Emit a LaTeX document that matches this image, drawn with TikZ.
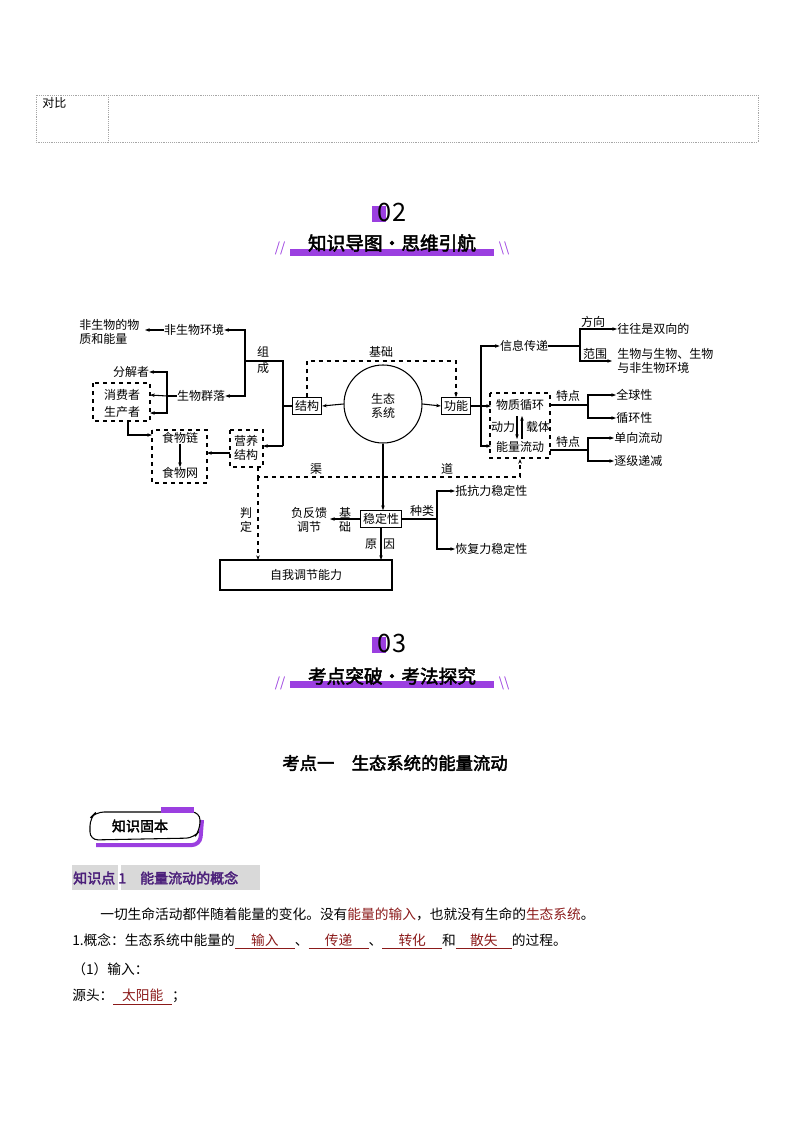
\documentclass[tikz,border=0pt]{standalone}
\usepackage{fontspec}
\setmainfont{Noto Sans CJK SC}
\newfontfamily\cjkb{Noto Sans CJK SC}[FakeBold=2.5]
\usetikzlibrary{arrows.meta}
\definecolor{pur}{HTML}{9B3FE0}
\definecolor{dred}{HTML}{8B1A1A}
\definecolor{tpur}{HTML}{4B1F7A}
\newcommand{\blk}[2]{\textcolor{dred}{\underline{\makebox[#1][c]{#2}}}}
\begin{document}
\begin{tikzpicture}[x=0.75pt,y=-0.75pt,
  t/.style={inner sep=0pt,font=\fontsize{9}{11}\selectfont},
  bx/.style={draw,line width=0.8pt,inner sep=2pt,font=\fontsize{9}{11}\selectfont},
  dbx/.style={draw,line width=0.8pt,dashed,inner sep=0pt},
  ar/.style={-{Stealth[length=3.5pt,width=2.6pt]},line width=0.8pt},
  ln/.style={line width=0.8pt},
  dar/.style={-{Stealth[length=3.5pt,width=2.6pt]},line width=0.8pt,dashed},
  bt/.style={inner sep=0pt,font=\fontsize{10.3}{15}\selectfont,anchor=west}]
\useasboundingbox (0,0) rectangle (794,1123);
% top table
\draw[gray!70,densely dotted] (36,95) rectangle (758,142);
\draw[gray!70,densely dotted] (108,95) -- (108,142);
\node[t,anchor=west] (db) at (42,103) {对比};
% 02 header
\fill[pur] (372,206) rectangle (386,222);
\node[inner sep=0pt,font=\fontsize{19}{20}\selectfont] (n02) at (392,212) {02};
\fill[pur] (290,249) rectangle (494,256);
\node[inner sep=0pt,font=\cjkb\fontsize{14}{16}\selectfont] (h02) at (392,243) {知识导图·思维引航};
\node[inner sep=0pt,pur,font=\fontsize{10}{10}\selectfont] (s1) at (280,248) {//};
\node[inner sep=0pt,pur,font=\fontsize{10}{10}\selectfont] (s2) at (504,248) {\textbackslash\textbackslash};
% diagram
\node[t,align=left,anchor=west] (fsw) at (79,332) {非生物的物\\质和能量};
\node[t] (fswhj) at (194,330) {非生物环境};
\node[t] (swql) at (201,396) {生物群落};
\node[t] (fjz) at (131,372) {分解者};
\node[t] (xfz) at (122,395) {消费者};
\node[t] (scz) at (122,412) {生产者};
\draw[dbx] (93,383) rectangle (150,421);
\coordinate (xb) at (150,395);
\coordinate (sb) at (150,413);
\node[t] (sl) at (180,438) {食物链};
\node[t] (sw) at (180,473) {食物网};
\draw[dbx] (152,430) rectangle (207,483);
\node[t,align=center] (yy) at (246,448) {营养\\结构};
\draw[dbx] (230,430) rectangle (263,467);
\node[bx] (jg) at (307,406) {结构};
\node[draw,line width=0.8pt,circle,minimum size=58.5pt,inner sep=0pt] (st) at (383,404) {};
\node[t,align=center] (stt) at (383,406) {生态\\系统};
\node[bx] (gn) at (456,406) {功能};
\node[t] (xx) at (524,346) {信息传递};
\node[t] (wz) at (520,405) {物质循环};
\node[t] (nl) at (520,447) {能量流动};
\node[t] (dl) at (503,427) {动力};
\node[t] (zt) at (538,427) {载体};
\draw[dbx] (490,393) rectangle (550,458);
\node[t,anchor=west] (wwsx) at (617,329) {往往是双向的};
\node[t,align=left,anchor=west] (swy) at (617,361) {生物与生物、生物\\与非生物环境};
\node[t,anchor=west] (qqx) at (616,395) {全球性};
\node[t,anchor=west] (xhx) at (616,418) {循环性};
\node[t,anchor=west] (dxld) at (614,438) {单向流动};
\node[t,anchor=west] (zjdj) at (614,461) {逐级递减};
\node[t] (fx) at (593,322) {方向};
\node[t] (fw) at (595,354) {范围};
\node[t] (td1) at (568,396) {特点};
\node[t] (td2) at (568,442) {特点};
\node[bx] (wdx) at (381,519) {稳定性};
\node[t,align=center] (ffk) at (309,520) {负反馈\\调节};
\node[t,align=center] (jc2) at (345,520) {基\\础};
\node[t] (zl) at (422,511) {种类};
\node[t,anchor=west] (dkl) at (455,491) {抵抗力稳定性};
\node[t,anchor=west] (hfl) at (455,549) {恢复力稳定性};
\node[t] (yin) at (380,544) {原\,\,\,因};
\node[draw,line width=0.8pt,minimum width=129pt,minimum height=22.5pt,inner sep=0pt,font=\fontsize{9}{11}\selectfont] (zw) at (306,575) {自我调节能力};
\node[t] (zu) at (263,352) {组};
\node[t] (ch) at (263,368) {成};
\node[t] (jc) at (381,352) {基础};
\node[t] (qu) at (316,469) {渠};
\node[t] (dao) at (447,469) {道};
\node[t,align=center] (pd) at (246,520) {判\\定};
% connectors
\draw[ar] (fswhj.west) -- (145,330);
\draw[ln] (283,446) -- (283,361) -- (245,361);
\draw[ar] (245,361) |- (fswhj.east);
\draw[ar] (245,361) |- (swql.east);
\draw[ln] (283,406) -- (jg.west);
\draw[ar] (st.west) -- (jg.east);
\draw[ar] (283,446) -- (263,446);
\draw[ln] (swql.west) -- (167,396);
\draw[ar] (167,396) |- (fjz.east);
\draw[ar] (167,396) -- (xb);
\draw[ar] (167,396) |- (sb);
\draw[ar] (128,421) |- (152,435);
\draw[ar] (sl.south) -- (sw.north);
\draw[ar] (230,453) -- (207,453);
\draw[dar] (jg.north) |- (456,361) -- (gn.north);
\draw[ar] (st.east) -- (gn.west);
\draw[ln] (gn.east) -- (481,406);
\draw[ar] (481,406) |- (xx.west);
\draw[ar] (481,406) -- (491,406);
\draw[ar] (481,406) |- (491,446);
\draw[ar] (517,416) -- (517,439);
\draw[ar] (522,439) -- (522,416);
\draw[ln] (xx.east) -- (580,346);
\draw[ar] (580,346) |- (wwsx.west);
\draw[ar] (580,346) |- (612,361);
\draw[ln] (550,405) -- (588,405);
\draw[ar] (588,405) |- (qqx.west);
\draw[ar] (588,405) |- (xhx.west);
\draw[ln] (550,450) -- (588,450);
\draw[ar] (588,450) |- (dxld.west);
\draw[ar] (588,450) |- (zjdj.west);
\draw[dar] (258,467) -- (258,477) -- (520,477) -- (520,459);
\draw[dar] (258,477) -- (258,560);
\draw[ar] (st.south) -- (wdx.north-|st.south);
\draw[ar] (wdx.west) -- (330,519);
\draw[ar] (381,528) -- (381,560);
\draw[ln] (wdx.east) -- (437,519);
\draw[ar] (437,519) |- (dkl.west);
\draw[ar] (437,519) |- (hfl.west);
% 03 header
\fill[pur] (372,637) rectangle (386,653);
\node[inner sep=0pt,font=\fontsize{19}{20}\selectfont] (n03) at (392,643) {03};
\fill[pur] (290,681) rectangle (494,688);
\node[inner sep=0pt,font=\cjkb\fontsize{14}{16}\selectfont] (h03) at (392,676) {考点突破·考法探究};
\node[inner sep=0pt,pur,font=\fontsize{10}{10}\selectfont] (s3) at (280,683) {//};
\node[inner sep=0pt,pur,font=\fontsize{10}{10}\selectfont] (s4) at (504,683) {\textbackslash\textbackslash};
\node[inner sep=0pt,font=\cjkb\fontsize{13}{15}\selectfont] (kd) at (395,763) {考点一\quad 生态系统的能量流动};
% badge
\draw[pur,line width=3pt,rounded corners=6pt] (96,845) -- (200,845) -- (202,820);
\draw[thick,rounded corners=6pt,fill=white] (90,840) -- (90,818) -- (96,812) -- (200,812) -- (200,830) -- (194,838) -- cycle;
\fill[pur] (161,807) rectangle (194,813);
\node[inner sep=0pt,font=\cjkb\fontsize{10.5}{12}\selectfont] (zsgb) at (140,826) {知识固本};
% knowledge point
\fill[gray!30] (72,865) rectangle (118,890);
\fill[gray!30] (121,865) rectangle (260,890);
\node[inner sep=0pt,anchor=west,text=tpur,font=\cjkb\fontsize{10.5}{12}\selectfont] (zsd) at (73,878) {知识点 1\quad 能量流动的概念};
\node[bt] (p1) at (100,914) {一切生命活动都伴随着能量的变化。没有\textcolor{dred}{能量的输入}，也就没有生命的\textcolor{dred}{生态系统}。};
\node[bt] (p2) at (72,941) {1.概念：生态系统中能量的\blk{45pt}{输入}、\blk{45pt}{传递}、\blk{45pt}{转化}和\blk{42pt}{散失}的过程。};
\node[bt] (p3) at (72,969) {（1）输入：};
\node[bt] (p4) at (72,997) {源头：\blk{44pt}{太阳能}；};
\end{tikzpicture}
\end{document}
